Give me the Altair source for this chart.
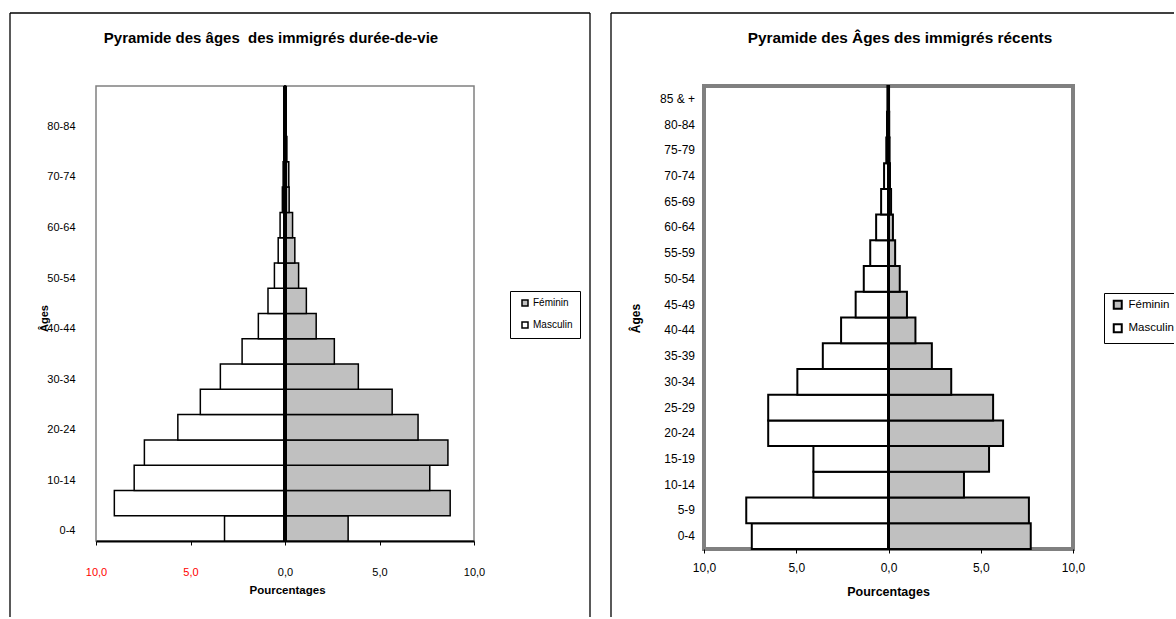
import altair as alt
import pandas as pd

FONT = "Liberation Sans"
NB = "\u00a0"

# ---------------- data ----------------
ages = ["0-4", "5-9", "10-14", "15-19", "20-24", "25-29", "30-34", "35-39", "40-44",
        "45-49", "50-54", "55-59", "60-64", "65-69", "70-74", "75-79", "80-84", "85 & +"]

# left chart: immigrés durée-de-vie (percent)
left_masculin = [3.20, 9.03, 7.98, 7.44, 5.67, 4.48, 3.42, 2.27, 1.41, 0.90,
                 0.56, 0.36, 0.26, 0.14, 0.10, 0.05, 0.03, 0.02]
left_feminin = [3.34, 8.74, 7.66, 8.62, 7.04, 5.67, 3.88, 2.61, 1.65, 1.13,
                0.72, 0.52, 0.40, 0.22, 0.20, 0.10, 0.05, 0.03]

# right chart: immigrés récents (percent)
right_masculin = [7.41, 7.71, 4.07, 4.07, 6.52, 6.52, 4.94, 3.56, 2.57, 1.78,
                  1.34, 0.99, 0.67, 0.40, 0.24, 0.12, 0.08, 0.06]
right_feminin = [7.71, 7.61, 4.09, 5.45, 6.21, 5.67, 3.40, 2.35, 1.46, 1.00,
                 0.61, 0.36, 0.24, 0.14, 0.08, 0.06, 0.04, 0.03]

left_age_labels = ["0-4", "10-14", "20-24", "30-34", "40-44", "50-54", "60-64", "70-74", "80-84"]
x_ticks = [-10, -5, 0, 5, 10]
sexes = ["Féminin", "Masculin"]
fills = ["#C0C0C0", "#FFFFFF"]

left_title = "Pyramide des âges" + NB + " des immigrés durée-de-vie"
right_title = "Pyramide des Âges des immigrés récents"


def long_table(masc, fem):
    rows = []
    for a, m, f in zip(ages, masc, fem):
        rows.append({"age": a, "sexe": "Masculin", "pct": -m})
        rows.append({"age": a, "sexe": "Féminin", "pct": f})
    return pd.DataFrame(rows)


one = pd.DataFrame({"k": [0]})
label_expr = "replace(format(abs(datum.value), '.1f'), '.', ',')"


def panel(df, c):
    # decorative outer frame of the chart object (left, top, right lines)
    frame = []
    frame.append(alt.Chart(one).mark_rule(color="black", strokeWidth=1.3).encode(
        x=alt.value(c["fx1"]), y=alt.value(c["fy"]), y2=alt.value(560)))
    frame.append(alt.Chart(one).mark_rule(color="black", strokeWidth=1.3).encode(
        x=alt.value(c["fx1"]), x2=alt.value(c["fx2"]), y=alt.value(c["fy"])))
    if c.get("right_line"):
        frame.append(alt.Chart(one).mark_rule(color="black", strokeWidth=1.3).encode(
            x=alt.value(c["fx2"]), y=alt.value(c["fy"]), y2=alt.value(560)))

    bars = alt.Chart(df).mark_bar(stroke="black", strokeWidth=c["bar_sw"]).encode(
        x=alt.X("pct:Q", stack=None,
                scale=alt.Scale(domain=[-10, 10], nice=False, zero=False),
                axis=alt.Axis(values=x_ticks, labelExpr=label_expr, labelFlush=False,
                              labelColor=c["xlabel_color"], labelFontSize=c["xfs"],
                              labelPadding=c["xlp"], tickSize=4, tickColor="black", tickWidth=1,
                              domain=c["xdomain"], domainColor="black", domainWidth=2,
                              grid=False, title="Pourcentages", titleFontSize=c["xtfs"],
                              titleFontWeight="bold", titleX=c["xtx"], titleY=c["xty"],
                              titleBaseline="middle", titleAlign="center", titleColor="black")),
        y=alt.Y("age:N", sort=ages[::-1],
                scale=alt.Scale(paddingInner=0, paddingOuter=0),
                axis=alt.Axis(values=c["yvalues"], ticks=False, domain=False, grid=False,
                              labelFontSize=c["yfs"], labelPadding=c["ylp"], labelOffset=c["ylo"],
                              labelColor="black", title="Âges", titleFontSize=c["ytfs"],
                              titleFontWeight="bold", titleAngle=270, titleX=c["ytx"], titleY=c["yty"],
                              titleBaseline="middle", titleAlign="center", titleColor="black")),
        color=alt.Color("sexe:N", scale=alt.Scale(domain=sexes, range=fills),
                        legend=alt.Legend(orient="none", legendX=c["lx"], legendY=c["ly"], title=None,
                                          direction="vertical", symbolType="square",
                                          symbolSize=c["ss"], symbolStrokeColor="black",
                                          symbolStrokeWidth=c["ssw"], symbolOffset=c["so"],
                                          labelFontSize=c["lfs"],
                                          labelFont=FONT, labelColor="black",
                                          padding=c["lpad"], rowPadding=c["lrp"],
                                          labelOffset=c["lo"], strokeColor="black",
                                          fillColor="white", cornerRadius=0)),
    )
    mid = alt.Chart(one).mark_rule(color="black", strokeWidth=c["mid_sw"]).encode(x=alt.datum(0))
    title = alt.Chart(one).mark_text(font=FONT, fontSize=c["tfs"], fontWeight="bold",
                                     align="center", baseline="middle", color="black").encode(
        x=alt.value(c["tx"]), y=alt.value(c["ty"]), text=alt.value(c["title"]))
    return alt.layer(*frame, bars, mid, title).properties(
        width=c["w"], height=c["h"],
        view=alt.ViewBackground(stroke="#808080", strokeWidth=c["view_sw"]))


left_cfg = dict(
    w=378, h=455, fx1=-86, fx2=494, fy=-73, right_line=True, bar_sw=1.5, mid_sw=4,
    xlabel_color={"condition": {"test": "datum.value < 0", "value": "#FF0000"}, "value": "#000000"},
    xfs=11, xlp=21, xdomain=True, xtfs=11.5, xtx=191, xty=49,
    yvalues=left_age_labels, yfs=11, ylp=21, ylo=3, ytfs=11, ytx=-52, yty=232,
    lx=414, ly=205, ss=36, ssw=1.5, so=3, lfs=10, lpad=7, lrp=10, lo=3,
    tfs=15, tx=175, ty=-48, title=left_title, view_sw=1.5,
)
right_cfg = dict(
    w=369, h=463, fx1=-93, fx2=480, fy=-73, right_line=False, bar_sw=2, mid_sw=3,
    xlabel_color="#000000",
    xfs=12, xlp=9, xdomain=False, xtfs=12.5, xtx=184, xty=42,
    yvalues=ages, yfs=12, ylp=9.5, ylo=0, ytfs=12, ytx=-69, yty=232,
    lx=400, ly=207, ss=64, ssw=2, so=2, lfs=11.5, lpad=6, lrp=6.5, lo=5,
    tfs=15.4, tx=196, ty=-48, title=right_title, view_sw=4,
)

left = panel(long_table(left_masculin, left_feminin), left_cfg)
right = panel(long_table(right_masculin, right_feminin), right_cfg)

chart = alt.hconcat(left, right, spacing=230, bounds="flush").resolve_scale(
    color="independent", x="independent", y="independent"
).resolve_legend(color="independent").properties(
    autosize=alt.AutoSizeParams(type="none"),
    padding={"left": 96, "top": 86, "right": 1078, "bottom": 531},
).configure(font=FONT, background="white").configure_axis(
    labelFont=FONT, titleFont=FONT
)

chart.save("out.html", embed_options={"renderer": "svg", "actions": False})
